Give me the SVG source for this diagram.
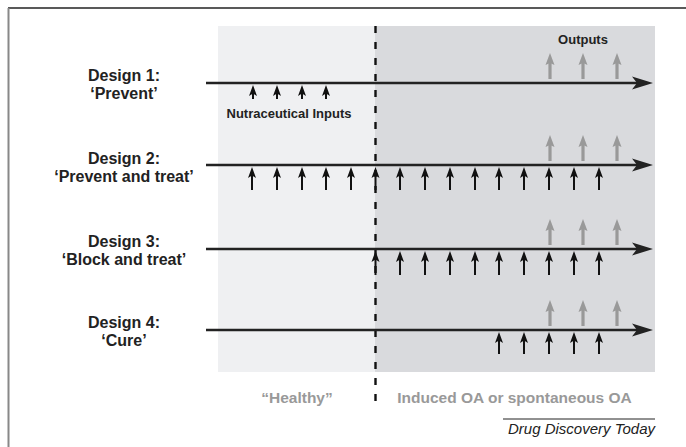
<svg xmlns="http://www.w3.org/2000/svg" xmlns:xlink="http://www.w3.org/1999/xlink" width="686" height="447" viewBox="0 0 686 447">
<defs>
<style>
.lbl{font-family:"Liberation Sans",Arial,sans-serif;font-weight:bold;font-size:16px;fill:#222;text-anchor:middle}
.sm{font-family:"Liberation Sans",Arial,sans-serif;font-weight:bold;font-size:13px;fill:#222;text-anchor:middle}
.bot{font-family:"Liberation Sans",Arial,sans-serif;font-weight:bold;font-size:15.5px;fill:#999;text-anchor:middle}
.tl{stroke:#222;stroke-width:2.6;fill:none}
.st{stroke:#111;stroke-width:2;fill:none}
.ost{stroke:#999;stroke-width:3.2;fill:none}
</style>
<path id="ih" d="M0,0 L-4,11 L0,8.5 L4,11 Z" fill="#111"/>
<path id="oh" d="M0,0 L-4.5,12 L0,10 L4.5,12 Z" fill="#999"/>
<path id="mh" d="M0,0 L-21,-6.5 L-16,0 L-21,6.5 Z" fill="#222"/>
</defs>
<rect width="686" height="447" fill="#fff"/>
<line x1="8" y1="8" x2="686" y2="8" stroke="#222" stroke-width="1.5"/>
<line x1="8.5" y1="8" x2="8.5" y2="447" stroke="#888" stroke-width="2"/>
<g id="background">
<rect x="218" y="26" width="157" height="346" fill="#eff0f2"/>
<rect x="375" y="26" width="280" height="346" fill="#d9dadd"/>
<line x1="375.5" y1="26" x2="375.5" y2="404" stroke="#111" stroke-width="2.4" stroke-dasharray="7 9"/>
</g>
<g id="design1">
<text class="lbl" x="124" y="81">Design 1:</text>
<text class="lbl" x="124" y="99">‘Prevent’</text>
<line class="tl" x1="206" y1="83" x2="640" y2="83"/>
<use xlink:href="#mh" x="653" y="83"/>
<g class="st"><line x1="253" y1="91" x2="253" y2="99"/><line x1="277" y1="91" x2="277" y2="99"/><line x1="302" y1="91" x2="302" y2="99"/><line x1="326" y1="91" x2="326" y2="99"/></g>
<use xlink:href="#ih" x="253" y="85"/><use xlink:href="#ih" x="277" y="85"/><use xlink:href="#ih" x="302" y="85"/><use xlink:href="#ih" x="326" y="85"/>
<text class="sm" x="289" y="118">Nutraceutical Inputs</text>
<text class="sm" x="583" y="44">Outputs</text>
<g class="ost"><line x1="550" y1="62" x2="550" y2="79"/><line x1="583" y1="62" x2="583" y2="79"/><line x1="617" y1="62" x2="617" y2="79"/></g>
<use xlink:href="#oh" x="550" y="53"/><use xlink:href="#oh" x="583" y="53"/><use xlink:href="#oh" x="617" y="53"/>
</g>
<g id="design2">
<text class="lbl" x="124" y="164">Design 2:</text>
<text class="lbl" x="124" y="182">‘Prevent and treat’</text>
<line class="tl" x1="206" y1="165" x2="640" y2="165"/>
<use xlink:href="#mh" x="653" y="165"/>
<g class="st">
<line x1="252" y1="174" x2="252" y2="190"/><line x1="277" y1="174" x2="277" y2="190"/><line x1="302" y1="174" x2="302" y2="190"/><line x1="326" y1="174" x2="326" y2="190"/><line x1="351" y1="174" x2="351" y2="190"/><line x1="375.5" y1="174" x2="375.5" y2="190"/><line x1="400" y1="174" x2="400" y2="190"/><line x1="425" y1="174" x2="425" y2="190"/><line x1="450" y1="174" x2="450" y2="190"/><line x1="475" y1="174" x2="475" y2="190"/><line x1="499" y1="174" x2="499" y2="190"/><line x1="524" y1="174" x2="524" y2="190"/><line x1="549" y1="174" x2="549" y2="190"/><line x1="574" y1="174" x2="574" y2="190"/><line x1="599" y1="174" x2="599" y2="190"/>
</g>
<use xlink:href="#ih" x="252" y="167"/><use xlink:href="#ih" x="277" y="167"/><use xlink:href="#ih" x="302" y="167"/><use xlink:href="#ih" x="326" y="167"/><use xlink:href="#ih" x="351" y="167"/><use xlink:href="#ih" x="375.5" y="167"/><use xlink:href="#ih" x="400" y="167"/><use xlink:href="#ih" x="425" y="167"/><use xlink:href="#ih" x="450" y="167"/><use xlink:href="#ih" x="475" y="167"/><use xlink:href="#ih" x="499" y="167"/><use xlink:href="#ih" x="524" y="167"/><use xlink:href="#ih" x="549" y="167"/><use xlink:href="#ih" x="574" y="167"/><use xlink:href="#ih" x="599" y="167"/>
<g class="ost"><line x1="550" y1="144" x2="550" y2="161"/><line x1="583" y1="144" x2="583" y2="161"/><line x1="617" y1="144" x2="617" y2="161"/></g>
<use xlink:href="#oh" x="550" y="135"/><use xlink:href="#oh" x="583" y="135"/><use xlink:href="#oh" x="617" y="135"/>
</g>
<g id="design3">
<text class="lbl" x="124" y="247">Design 3:</text>
<text class="lbl" x="124" y="265">‘Block and treat’</text>
<line class="tl" x1="206" y1="249" x2="640" y2="249"/>
<use xlink:href="#mh" x="653" y="249"/>
<g class="st">
<line x1="375.5" y1="258" x2="375.5" y2="275"/><line x1="400" y1="258" x2="400" y2="275"/><line x1="425" y1="258" x2="425" y2="275"/><line x1="450" y1="258" x2="450" y2="275"/><line x1="475" y1="258" x2="475" y2="275"/><line x1="499" y1="258" x2="499" y2="275"/><line x1="524" y1="258" x2="524" y2="275"/><line x1="549" y1="258" x2="549" y2="275"/><line x1="574" y1="258" x2="574" y2="275"/><line x1="599" y1="258" x2="599" y2="275"/>
</g>
<use xlink:href="#ih" x="375.5" y="251"/><use xlink:href="#ih" x="400" y="251"/><use xlink:href="#ih" x="425" y="251"/><use xlink:href="#ih" x="450" y="251"/><use xlink:href="#ih" x="475" y="251"/><use xlink:href="#ih" x="499" y="251"/><use xlink:href="#ih" x="524" y="251"/><use xlink:href="#ih" x="549" y="251"/><use xlink:href="#ih" x="574" y="251"/><use xlink:href="#ih" x="599" y="251"/>
<g class="ost"><line x1="550" y1="228" x2="550" y2="245"/><line x1="583" y1="228" x2="583" y2="245"/><line x1="617" y1="228" x2="617" y2="245"/></g>
<use xlink:href="#oh" x="550" y="219"/><use xlink:href="#oh" x="583" y="219"/><use xlink:href="#oh" x="617" y="219"/>
</g>
<g id="design4">
<text class="lbl" x="124" y="328">Design 4:</text>
<text class="lbl" x="124" y="346">‘Cure’</text>
<line class="tl" x1="206" y1="330" x2="640" y2="330"/>
<use xlink:href="#mh" x="653" y="330"/>
<g class="st">
<line x1="499" y1="339" x2="499" y2="354"/><line x1="524" y1="339" x2="524" y2="354"/><line x1="549" y1="339" x2="549" y2="354"/><line x1="574" y1="339" x2="574" y2="354"/><line x1="599" y1="339" x2="599" y2="354"/>
</g>
<use xlink:href="#ih" x="499" y="332"/><use xlink:href="#ih" x="524" y="332"/><use xlink:href="#ih" x="549" y="332"/><use xlink:href="#ih" x="574" y="332"/><use xlink:href="#ih" x="599" y="332"/>
<g class="ost"><line x1="550" y1="309" x2="550" y2="326"/><line x1="583" y1="309" x2="583" y2="326"/><line x1="617" y1="309" x2="617" y2="326"/></g>
<use xlink:href="#oh" x="550" y="300"/><use xlink:href="#oh" x="583" y="300"/><use xlink:href="#oh" x="617" y="300"/>
</g>
<g id="phases">
<text class="bot" x="297" y="403">“Healthy”</text>
<text class="bot" x="514.5" y="403">Induced OA or spontaneous OA</text>
</g>
<g id="footer">
<line x1="503" y1="419" x2="655" y2="419" stroke="#222" stroke-width="1"/>
<text x="655" y="434" text-anchor="end" font-family="'Liberation Sans',Arial,sans-serif" font-style="italic" font-size="15px" fill="#222">Drug Discovery Today</text>
</g>
</svg>
